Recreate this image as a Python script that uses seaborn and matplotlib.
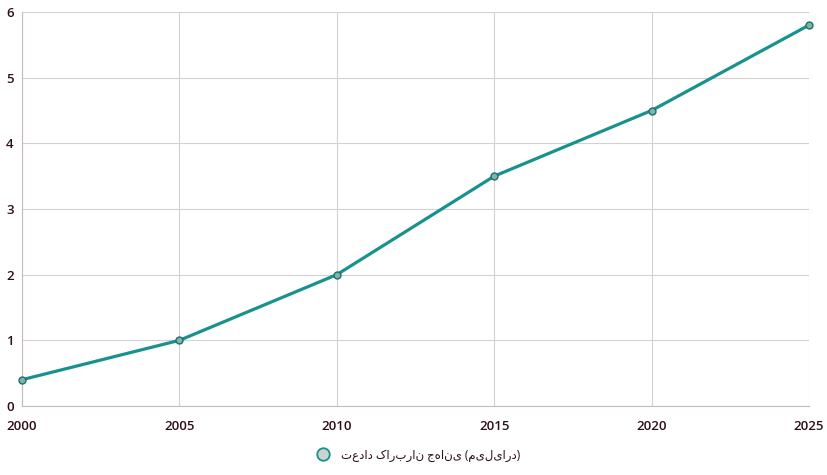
import matplotlib
matplotlib.use("Agg")
import matplotlib.pyplot as plt
import seaborn as sns
import pandas as pd

years = [2000, 2005, 2010, 2015, 2020, 2025]
users = [0.4, 1.0, 2.0, 3.5, 4.5, 5.8]
series_label = "تعداد کاربران جهانی (میلیارد)"
yticks = [0, 1, 2, 3, 4, 5, 6]

sns.set_theme(style="white")
plt.rcParams['font.family'] = ['Open Sans', 'DejaVu Sans']

df = pd.DataFrame({"year": years, "users": users})

fig = plt.figure(figsize=(8.27, 4.75), dpi=100)
ax = fig.add_axes([22/827, 1-406/475, (809-22)/827, (406-12)/475])

teal = "#17928d"
sns.lineplot(data=df, x="year", y="users", ax=ax, color=teal, linewidth=2.3,
             marker="o", markersize=5, markerfacecolor="#7fb3ad",
             markeredgecolor="#1f6f6b", markeredgewidth=1.0, label=series_label,
             legend=False, clip_on=False, zorder=3)

ax.set_xlim(2000, 2025)
ax.set_ylim(0, 6)
ax.set_xticks(years)
ax.set_yticks(yticks)
ax.set_xlabel("")
ax.set_ylabel("")
ax.grid(True, color="#d6d0d3", linewidth=0.8)
for s in ["top", "right"]:
    ax.spines[s].set_visible(False)
ax.spines["left"].set_color("#c9b8bd")
ax.spines["bottom"].set_color("#c9b8bd")
ax.spines["left"].set_linewidth(0.8)
ax.spines["bottom"].set_linewidth(0.8)
ax.tick_params(axis="both", colors="#c9b8bd", labelcolor="#2e0f18", labelsize=9.5,
               length=4, width=0.8, direction="out")
ax.tick_params(axis="y", pad=2)
ax.tick_params(axis="x", pad=6)
for lbl in ax.get_xticklabels() + ax.get_yticklabels():
    lbl.set_fontweight("semibold")

handle = plt.Line2D([], [], linestyle="none", marker="o", markersize=9,
                    markerfacecolor="#c9d3d0", markeredgecolor=teal, markeredgewidth=1.3)
fig.legend([handle], [series_label], loc="center", bbox_to_anchor=(416/827, 1-455/475),
           frameon=False, fontsize=8.5, handletextpad=0.5, labelcolor="#2e0f18")

fig.savefig("out.png", dpi=100)
